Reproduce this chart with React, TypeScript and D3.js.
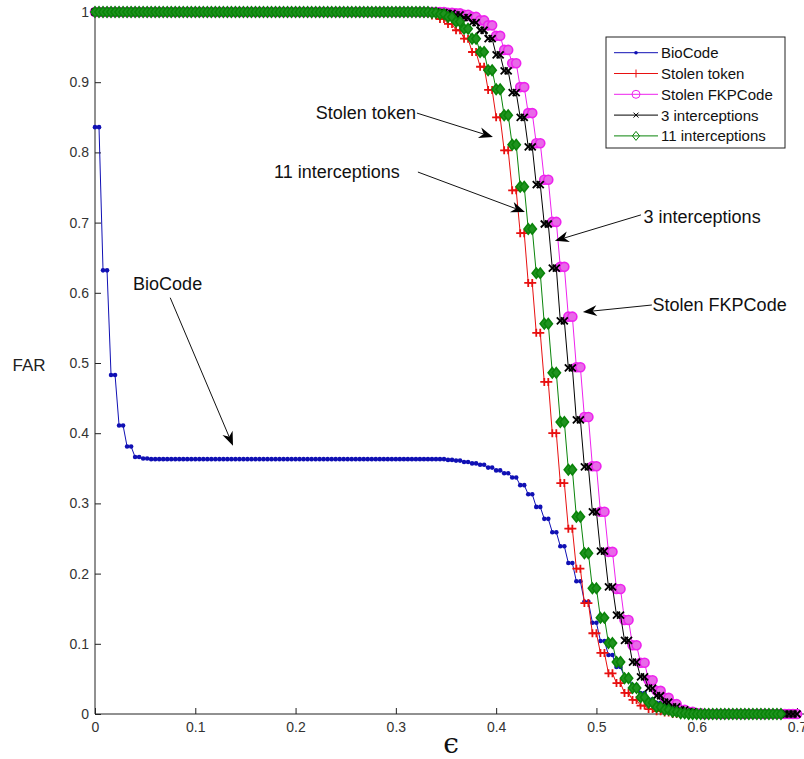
import React, { useEffect, useRef } from "react";
import * as d3 from "d3";

// threshold grid for epsilon (step 0.008)
const epsilon = d3.range(0, 0.7, 0.008);

// FAR values, one per epsilon step
const bioCode = [
  0.836, 0.632, 0.483, 0.411, 0.381, 0.366, 0.364, 0.363, 0.363, 0.363,
  0.363, 0.363, 0.363, 0.363, 0.363, 0.363, 0.363, 0.363, 0.363, 0.363,
  0.363, 0.363, 0.363, 0.363, 0.363, 0.363, 0.363, 0.363, 0.363, 0.363,
  0.363, 0.363, 0.363, 0.363, 0.363, 0.363, 0.363, 0.363, 0.363, 0.363,
  0.363, 0.363, 0.363, 0.363, 0.362, 0.361, 0.359, 0.357, 0.355, 0.351,
  0.347, 0.343, 0.337, 0.326, 0.313, 0.295, 0.278, 0.259, 0.239, 0.215,
  0.189, 0.16, 0.13, 0.104, 0.084, 0.067, 0.053, 0.041, 0.03, 0.021,
  0.016, 0.011, 0.007, 0.004, 0.002, 0, 0, 0, 0, 0,
  0, 0, 0, 0, 0, 0, 0, 0,
];

const stolenToken = [
  1, 1, 1, 1, 1, 1, 1, 1, 1, 1,
  1, 1, 1, 1, 1, 1, 1, 1, 1, 1,
  1, 1, 1, 1, 1, 1, 1, 1, 1, 1,
  1, 1, 1, 1, 1, 1, 1, 1, 1, 1,
  1, 0.998, 0.995, 0.99, 0.983, 0.974, 0.962, 0.943, 0.922, 0.889,
  0.85, 0.803, 0.746, 0.685, 0.614, 0.543, 0.473, 0.4, 0.329, 0.264,
  0.207, 0.158, 0.115, 0.087, 0.058, 0.044, 0.03, 0.02, 0.012, 0.007,
  0.004, 0.002, 0, 0, 0, 0, 0, 0, 0, 0,
  0, 0, 0, 0, 0, 0, 0, 0,
];

const stolenFKPCode = [
  1, 1, 1, 1, 1, 1, 1, 1, 1, 1,
  1, 1, 1, 1, 1, 1, 1, 1, 1, 1,
  1, 1, 1, 1, 1, 1, 1, 1, 1, 1,
  1, 1, 1, 1, 1, 1, 1, 1, 1, 1,
  1, 1, 1, 1, 0.999, 0.998, 0.996, 0.993, 0.988, 0.981,
  0.966, 0.946, 0.927, 0.893, 0.856, 0.813, 0.761, 0.701, 0.637, 0.566,
  0.494, 0.423, 0.353, 0.288, 0.231, 0.178, 0.134, 0.098, 0.073, 0.048,
  0.033, 0.023, 0.014, 0.006, 0.003, 0.001, 0, 0, 0, 0,
  0, 0, 0, 0, 0, 0, 0, 0,
];

const interceptions3 = [
  1, 1, 1, 1, 1, 1, 1, 1, 1, 1,
  1, 1, 1, 1, 1, 1, 1, 1, 1, 1,
  1, 1, 1, 1, 1, 1, 1, 1, 1, 1,
  1, 1, 1, 1, 1, 1, 1, 1, 1, 1,
  1, 1, 1, 0.999, 0.998, 0.996, 0.992, 0.985, 0.974, 0.962,
  0.939, 0.916, 0.885, 0.85, 0.808, 0.754, 0.698, 0.635, 0.56, 0.493,
  0.419, 0.352, 0.288, 0.232, 0.181, 0.141, 0.105, 0.074, 0.053, 0.037,
  0.026, 0.017, 0.01, 0.006, 0.003, 0.001, 0, 0, 0, 0,
  0, 0, 0, 0, 0, 0, 0, 0,
];

const interceptions11 = [
  1, 1, 1, 1, 1, 1, 1, 1, 1, 1,
  1, 1, 1, 1, 1, 1, 1, 1, 1, 1,
  1, 1, 1, 1, 1, 1, 1, 1, 1, 1,
  1, 1, 1, 1, 1, 1, 1, 1, 1, 1,
  1, 1, 0.999, 0.997, 0.993, 0.986, 0.976, 0.962, 0.943, 0.917,
  0.89, 0.853, 0.811, 0.751, 0.691, 0.628, 0.556, 0.486, 0.416, 0.348,
  0.281, 0.229, 0.179, 0.137, 0.101, 0.074, 0.051, 0.037, 0.024, 0.016,
  0.01, 0.006, 0.003, 0.001, 0, 0, 0, 0, 0, 0,
  0, 0, 0, 0, 0, 0,
];

const seriesNames = ["BioCode", "Stolen token", "Stolen FKPCode", "3 interceptions", "11 interceptions"];
const seriesValues = [bioCode, stolenToken, stolenFKPCode, interceptions3, interceptions11];
const seriesColors = ["#1010b4", "#e81010", "#ee22ee", "#000000", "#0a840a"];
const seriesMarkers = ["dot", "plus", "circle", "cross", "diamond"];

const xTicks = [0, 0.1, 0.2, 0.3, 0.4, 0.5, 0.6, 0.7];
const yTicks = [0, 0.1, 0.2, 0.3, 0.4, 0.5, 0.6, 0.7, 0.8, 0.9, 1];

// text arrows, in data units: label anchor, arrow start, arrow tip
const notes = [
  { label: "BioCode", at: [0.038, 0.6047], anchor: "start", from: [0.075, 0.593], to: [0.1376, 0.382] },
  { label: "Stolen token", at: [0.32, 0.848], anchor: "end", from: [0.321, 0.856], to: [0.3968, 0.822] },
  { label: "11 interceptions", at: [0.304, 0.7635], anchor: "end", from: [0.322, 0.772], to: [0.4287, 0.715] },
  { label: "3 interceptions", at: [0.547, 0.7], anchor: "start", from: [0.5444, 0.711], to: [0.4586, 0.674] },
  { label: "Stolen FKPCode", at: [0.556, 0.5734], anchor: "start", from: [0.5553, 0.5826], to: [0.4865, 0.5726] },
];

const W = 804;
const H = 759;
const FONT = "'Liberation Sans', Arial, sans-serif";

const App = () => {
  const ref = useRef<SVGSVGElement>(null);

  useEffect(() => {
    const svg = d3.select(ref.current);
    svg.selectAll("*").remove();

    const x = d3.scaleLinear().domain([0, 0.7]).range([95, 797]);
    const y = d3.scaleLinear().domain([0, 1]).range([714, 12]);

    // marker glyphs
    const drawMarker = (g: any, kind: string, color: string, legend = false) => {
      if (kind === "dot") {
        g.append("circle").attr("r", legend ? 1.8 : 2.3).attr("fill", color);
      } else if (kind === "plus") {
        const s = 4;
        g.append("path")
          .attr("d", `M${-s},0H${s}M0,${-s}V${s}`)
          .attr("stroke", color)
          .attr("stroke-width", legend ? 1 : 1.8)
          .attr("fill", "none");
      } else if (kind === "circle") {
        g.append("circle")
          .attr("r", legend ? 4 : 4.5)
          .attr("stroke", color)
          .attr("stroke-width", legend ? 1 : 1.6)
          .attr("fill", legend ? "none" : "#e86ae8");
      } else if (kind === "cross") {
        const s = legend ? 2.5 : 3.5;
        g.append("path")
          .attr("d", `M${-s},${-s}L${s},${s}M${-s},${s}L${s},${-s}`)
          .attr("stroke", color)
          .attr("stroke-width", legend ? 1 : 1.8)
          .attr("fill", "none");
      } else if (kind === "diamond") {
        const s = legend ? 4.5 : 5.2;
        g.append("path")
          .attr("d", `M0,${-s}L${s * 0.8},0L0,${s}L${-s * 0.8},0Z`)
          .attr("stroke", color)
          .attr("stroke-width", legend ? 1 : 1.6)
          .attr("fill", legend ? "none" : "#1f931f");
      }
    };

    // axes
    const axisG = svg.append("g").attr("font-family", FONT);
    const xAxis = axisG
      .append("g")
      .attr("transform", `translate(0,${y(0)})`)
      .call(d3.axisBottom(x).tickValues(xTicks).tickSize(-6).tickPadding(8).tickFormat(d3.format("~g")));
    const yAxis = axisG
      .append("g")
      .attr("transform", `translate(${x(0)},0)`)
      .call(d3.axisLeft(y).tickValues(yTicks).tickSize(-6).tickPadding(6).tickFormat(d3.format("~g")));
    [xAxis, yAxis].forEach((a) => {
      a.select(".domain").remove();
      a.selectAll("line").attr("stroke", "#222");
      a.selectAll("text").attr("font-size", 14).attr("fill", "#333").attr("font-family", FONT);
    });
    axisG.append("line").attr("x1", x(0)).attr("x2", W).attr("y1", y(0)).attr("y2", y(0)).attr("stroke", "#222");
    axisG.append("line").attr("x1", x(0)).attr("x2", x(0)).attr("y1", 10).attr("y2", y(0)).attr("stroke", "#222");

    // series: each value held for half a step, markers at both ends
    const hold = 0.004;
    const line = d3
      .line<number[]>()
      .x((d) => x(d[0]))
      .y((d) => y(d[1]));

    seriesValues.forEach((vals, k) => {
      const pts = vals.flatMap((v, i) => [
        [epsilon[i], v],
        [epsilon[i] + hold, v],
      ]);
      const g = svg.append("g");
      g.append("path")
        .attr("d", line(pts))
        .attr("fill", "none")
        .attr("stroke", seriesColors[k])
        .attr("stroke-width", 1);
      pts.forEach((p) => {
        const m = g.append("g").attr("transform", `translate(${x(p[0])},${y(p[1])})`);
        drawMarker(m, seriesMarkers[k], seriesColors[k]);
      });
    });

    // legend
    const lg = svg.append("g").attr("transform", "translate(606,37)");
    lg.append("rect").attr("width", 179).attr("height", 111).attr("fill", "#fff").attr("stroke", "#222");
    seriesNames.forEach((name, k) => {
      const row = lg.append("g").attr("transform", `translate(0,${15.7 + k * 20.8})`);
      row.append("line").attr("x1", 8).attr("x2", 52).attr("stroke", seriesColors[k]).attr("stroke-width", 1);
      drawMarker(row.append("g").attr("transform", "translate(30,0)"), seriesMarkers[k], seriesColors[k], true);
      row.append("text")
        .attr("x", 55)
        .attr("dy", "0.36em")
        .attr("font-family", FONT)
        .attr("font-size", 15)
        .attr("fill", "#111")
        .text(name);
    });

    // annotations with arrows
    notes.forEach((n) => {
      const g = svg.append("g");
      const x1 = x(n.from[0]);
      const y1 = y(n.from[1]);
      const x2 = x(n.to[0]);
      const y2 = y(n.to[1]);
      const ang = Math.atan2(y2 - y1, x2 - x1);
      const len = 14;
      const half = 5.5;
      const back = [x2 - len * Math.cos(ang), y2 - len * Math.sin(ang)];
      const notch = [x2 - len * 0.7 * Math.cos(ang), y2 - len * 0.7 * Math.sin(ang)];
      const nx = -Math.sin(ang);
      const ny = Math.cos(ang);
      g.append("line")
        .attr("x1", x1)
        .attr("y1", y1)
        .attr("x2", notch[0])
        .attr("y2", notch[1])
        .attr("stroke", "#111")
        .attr("stroke-width", 1);
      g.append("path")
        .attr(
          "d",
          `M${x2},${y2}L${back[0] + nx * half},${back[1] + ny * half}L${notch[0]},${notch[1]}L${back[0] - nx * half},${back[1] - ny * half}Z`
        )
        .attr("fill", "#000");
      g.append("text")
        .attr("x", x(n.at[0]))
        .attr("y", y(n.at[1]))
        .attr("text-anchor", n.anchor)
        .attr("font-family", FONT)
        .attr("font-size", 18)
        .attr("fill", "#111")
        .text(n.label);
    });

    // axis titles
    svg.append("text")
      .attr("x", 29)
      .attr("y", 371)
      .attr("text-anchor", "middle")
      .attr("font-family", FONT)
      .attr("font-size", 17)
      .attr("fill", "#222")
      .text("FAR");
    svg.append("text")
      .attr("x", 451)
      .attr("y", 753)
      .attr("text-anchor", "middle")
      .attr("font-family", "'DejaVu Serif', serif")
      .attr("font-size", 28)
      .attr("fill", "#111")
      .text("ϵ");
  }, []);

  return (
    <svg
      ref={ref}
      width={W}
      height={H}
      style={{ position: "absolute", left: 0, top: 0, background: "#fff" }}
    />
  );
};

export default App;
